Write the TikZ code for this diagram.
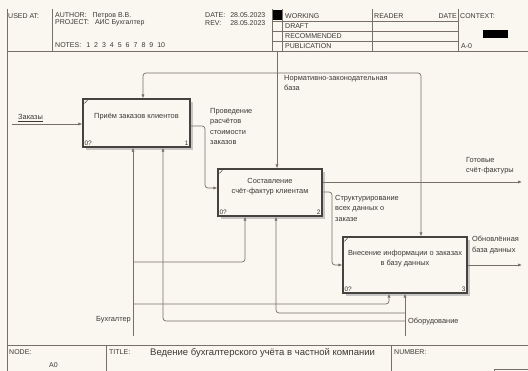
\documentclass[tikz,border=0pt]{standalone}
\usepackage{fontspec}
\setmainfont{Liberation Sans}
\usetikzlibrary{arrows.meta,calc}
\definecolor{paper}{RGB}{249,247,240}
\definecolor{ln}{RGB}{120,112,104}
\definecolor{txt}{RGB}{60,56,52}
\definecolor{bx}{RGB}{70,66,62}
\tikzset{
  frame/.style={draw=ln, line width=0.6pt},
  arr/.style={draw=ln, line width=0.7pt, rounded corners=3pt, -{Latex[length=4pt,width=3.2pt]}},
  box/.style={draw=bx, line width=1.3pt, fill=paper, align=center, text=txt,
    font=\fontsize{7.4}{10}\selectfont, inner sep=2pt},
  hdr/.style={anchor=west, text=txt, font=\fontsize{7}{8}\selectfont, inner sep=0pt},
  lbl/.style={anchor=north west, align=left, text=txt, font=\fontsize{7.4}{10.5}\selectfont, inner sep=0pt},
  num/.style={text=txt, font=\fontsize{6.5}{7}\selectfont, inner sep=0pt}
}
\begin{document}
\begin{tikzpicture}[x=1pt,y=-1pt]
\useasboundingbox (0,0) rectangle (528,371);
\fill[paper] (0,0) rectangle (528,371);

% ---------- header ----------
\draw[frame] (7,9) -- (7,371);
\draw[frame] (7,51) -- (528,51);
\draw[frame] (52,9) -- (52,51);
\draw[frame] (272,9) -- (272,51);
\draw[frame] (282,9) -- (282,51);
\draw[frame] (372,9) -- (372,51);
\draw[frame] (458,9) -- (458,51);
\draw[frame] (272,21) -- (458,21);
\draw[frame] (272,31) -- (458,31);
\draw[frame] (272,41) -- (458,41);
\fill[black] (272.5,10) rectangle (281.5,20.5);
\fill[black] (483,30) rectangle (508,38);

\node[hdr] (usedat) at (8,16) {USED AT:};
\node[hdr] (author) at (55,15.5) {AUTHOR:\hspace{6pt}Петров В.В.};
\node[hdr] (project) at (55,23) {PROJECT:\hspace{6pt}АИС Бухгалтер};
\node[hdr] (notes) at (55,45.5) {NOTES:\hspace{5pt}1\hspace{4pt}2\hspace{4pt}3\hspace{4pt}4\hspace{4pt}5\hspace{4pt}6\hspace{4pt}7\hspace{4pt}8\hspace{4pt}9\hspace{4pt}10};
\node[hdr] (date) at (205,15.5) {DATE:\hspace{5pt}28.05.2023};
\node[hdr] (rev) at (205,23) {REV:\hspace{9pt}28.05.2023};
\node[hdr] (working) at (285,16) {WORKING};
\node[hdr] (draft) at (285,26) {DRAFT};
\node[hdr] (recom) at (285,36) {RECOMMENDED};
\node[hdr] (publ) at (285,46) {PUBLICATION};
\node[hdr] (reader) at (374,16) {READER};
\node[hdr, anchor=east] (rdate) at (457,16) {DATE};
\node[hdr] (context) at (460,16) {CONTEXT:};
\node[hdr] (azero) at (461,46) {A-0};

% ---------- footer ----------
\draw[frame] (7,345) -- (528,345);
\draw[frame] (106,345) -- (106,371);
\draw[frame] (391,345) -- (391,371);
\draw[frame] (494,371) -- (494,369) -- (528,369);
\node[hdr] (node) at (9,352) {NODE:};
\node[hdr] (nodeA) at (49,365) {A0};
\node[hdr] (title) at (109,352) {TITLE:};
\node[hdr, font=\fontsize{9.5}{11}\selectfont] (titletext) at (150,353) {Ведение бухгалтерского учёта в частной компании};
\node[hdr] (number) at (394,352) {NUMBER:};

% ---------- boxes (with shadows) ----------
\fill[gray!45] (86,102) rectangle (193,150);
\fill[gray!45] (221,172) rectangle (325,219);
\fill[gray!45] (346,240) rectangle (470,296);
\node[box, minimum width=107pt, minimum height=48pt] (b1) at (136.5,123) {Приём заказов клиентов\\[5pt]};
\node[box, minimum width=104pt, minimum height=47pt] (b2) at (270,192.5) {Составление\\счёт-фактур клиентам\\[3pt]};
\node[box, minimum width=124pt, minimum height=56pt] (b3) at (405,265) {Внесение информации о заказах\\в базу данных\\[4pt]};
\foreach \b/\n in {b1/1,b2/2,b3/3}{
  \node[num, anchor=south west] at ($(\b.south west)+(2,-2)$) {0?};
  \node[num, anchor=south east] at ($(\b.south east)+(-2,-2)$) {\n};
  \draw[bx, line width=0.5pt] ($(\b.north west)+(2,5)$) -- ($(\b.north west)+(5,2)$);
}

% ---------- input ----------
\coordinate (inZ) at (12,124);
\draw[arr] (inZ) -- (inZ -| b1.west);
\node[lbl, anchor=south west] (lZ) at (18,122) {\underline{Заказы}};

% ---------- control ----------
\coordinate (ctop) at (277,51);
\coordinate (cL) at (143,73);
\coordinate (cR) at (421,73);
\draw[arr] (ctop) -- (ctop |- b2.north);
\draw[arr] (ctop |- cL) -- (cL) -- (cL |- b1.north);
\draw[arr] (ctop |- cR) -- (cR) -- (cR |- b3.north);
\node[lbl] (lN) at (284,75) {Нормативно-законодательная\\база};

% ---------- box1 -> box2 ----------
\coordinate (o1) at (205,126);
\coordinate (i2) at (205,188);
\draw[arr] (b1.east |- o1) -- (o1) -- (i2) -- (i2 -| b2.west);
\node[lbl] (lP) at (210,108) {Проведение\\расчётов\\стоимости\\заказов};

% ---------- box2 outputs ----------
\coordinate (outG) at (522,182);
\draw[arr] (b2.east |- outG) -- (outG);
\node[lbl] (lG) at (466,157) {Готовые\\счёт-фактуры};
\coordinate (o2) at (332,192);
\coordinate (i3) at (332,265);
\draw[arr] (b2.east |- o2) -- (o2) -- (i3) -- (i3 -| b3.west);
\node[lbl] (lS) at (335,195) {Структурирование\\всех данных о\\заказе};

% ---------- box3 output ----------
\coordinate (outB) at (522,265);
\draw[arr] (b3.east |- outB) -- (outB);
\node[lbl] (lB) at (472,236) {Обновлённая\\база данных};

% ---------- mechanisms ----------
\coordinate (mB) at (133,336);
\draw[arr] (mB) -- (mB |- b1.south);
\coordinate (mB1) at (245,262);
\draw[arr] (mB |- mB1) -- (mB1) -- (mB1 |- b2.south);
\coordinate (mB2) at (389,304);
\draw[arr] (mB |- mB2) -- (mB2) -- (mB2 |- b3.south);
\node[lbl, anchor=east] (lBuh) at (131,320) {Бухгалтер};

\coordinate (mO) at (405,336);
\draw[arr] (mO) -- (mO |- b3.south);
\coordinate (mO1) at (276,313);
\draw[arr] (mO |- mO1) -- (mO1) -- (mO1 |- b2.south);
\coordinate (mO2) at (163,321);
\draw[arr] (mO |- mO2) -- (mO2) -- (mO2 |- b1.south);
\node[lbl, anchor=west] (lO) at (408,322) {Оборудование};
\end{tikzpicture}
\end{document}
